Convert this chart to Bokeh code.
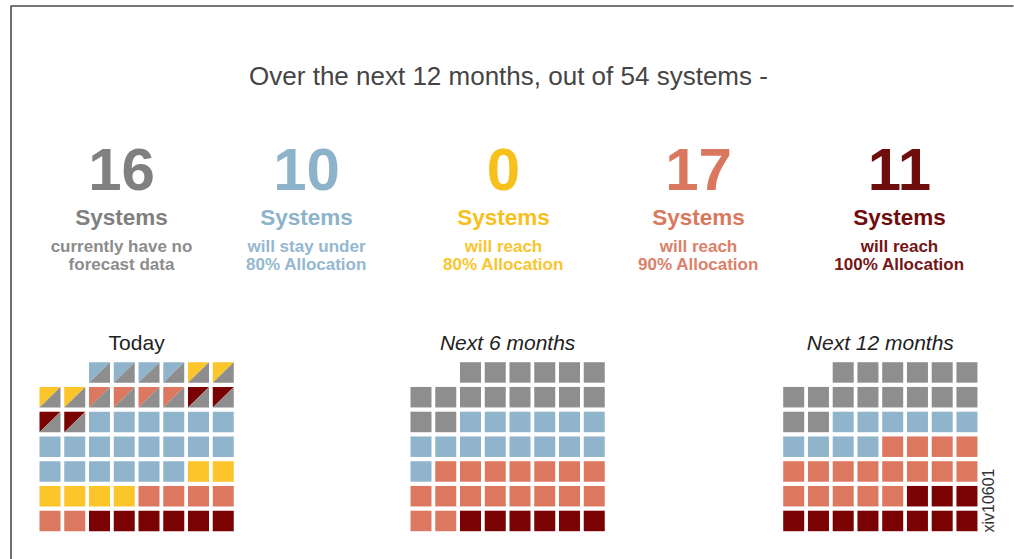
import math
from bokeh.plotting import figure
from bokeh.models import Range1d
from bokeh.core.properties import value
from bokeh.embed import file_html
from bokeh.resources import INLINE

# ---------------- data ----------------
title_text = "Over the next 12 months, out of 54 systems -"
stat_counts = ["16", "10", "0", "17", "11"]
stat_unit = ["Systems", "Systems", "Systems", "Systems", "Systems"]
stat_line1 = ["currently have no", "will stay under", "will reach", "will reach", "will reach"]
stat_line2 = ["forecast data", "80% Allocation", "80% Allocation", "90% Allocation", "100% Allocation"]
stat_colors = ["#808080", "#8db3cb", "#f8c01c", "#da785f", "#6f0c0c"]
stat_sub_colors = ["#8c8c8c", "#93b8cf", "#f9c52e", "#dc8069", "#741616"]

grid_titles = ["Today", "Next 6 months", "Next 12 months"]
grid_title_styles = ["normal", "italic", "italic"]

# cell codes: G gray, B blue, Y yellow, S salmon, R dark red; two letters = diagonal split (upper-left / lower-right)
today = [
    ["", "", "BG", "BG", "BG", "BG", "YG", "YG"],
    ["YG", "YG", "SG", "SG", "SG", "SG", "RG", "RG"],
    ["RG", "RG", "B", "B", "B", "B", "B", "B"],
    ["B", "B", "B", "B", "B", "B", "B", "B"],
    ["B", "B", "B", "B", "B", "B", "Y", "Y"],
    ["Y", "Y", "Y", "Y", "S", "S", "S", "S"],
    ["S", "S", "R", "R", "R", "R", "R", "R"],
]
next6 = [
    ["", "", "G", "G", "G", "G", "G", "G"],
    ["G", "G", "G", "G", "G", "G", "G", "G"],
    ["G", "G", "B", "B", "B", "B", "B", "B"],
    ["B", "B", "B", "B", "B", "B", "B", "B"],
    ["B", "S", "S", "S", "S", "S", "S", "S"],
    ["S", "S", "S", "S", "S", "S", "S", "S"],
    ["S", "S", "R", "R", "R", "R", "R", "R"],
]
next12 = [
    ["", "", "G", "G", "G", "G", "G", "G"],
    ["G", "G", "G", "G", "G", "G", "G", "G"],
    ["G", "G", "B", "B", "B", "B", "B", "B"],
    ["B", "B", "B", "B", "S", "S", "S", "S"],
    ["S", "S", "S", "S", "S", "S", "S", "S"],
    ["S", "S", "S", "S", "S", "R", "R", "R"],
    ["R", "R", "R", "R", "R", "R", "R", "R"],
]
grids = [today, next6, next12]
cell_colors = {"G": "#8e8e8e", "B": "#8fb4cc", "Y": "#fcc52a", "S": "#dc7860", "R": "#7a0202"}
code_text = "xiv10601"

# ---------------- layout ----------------
W, H = 1014, 559
FONT = "Liberation Sans"
p = figure(width=W, height=H, output_backend="svg", toolbar_location=None,
           x_range=Range1d(0, W), y_range=Range1d(H, 0), min_border=0)
p.axis.visible = False
p.grid.visible = False
p.outline_line_color = None
p.background_fill_color = "white"
p.border_fill_color = "white"

# frame lines
p.line(x=[10.5, 10.5, 1013], y=[H, 5.5, 5.5], line_color="#4a4a4a", line_width=1.6)

# title
p.text(x=[508], y=[75], text=[title_text], text_font=value(FONT), text_font_size="26px",
       text_color="#454545", text_align="center", text_baseline="middle")

# stats
stat_x = [121, 306, 503, 698, 899]
p.text(x=stat_x, y=[169] * 5, text=stat_counts, text_font=value(FONT), text_font_size="60px",
       text_font_style="bold", text_color=stat_colors, text_align="center", text_baseline="middle")
p.text(x=stat_x, y=[217] * 5, text=stat_unit, text_font=value(FONT), text_font_size="22.5px",
       text_font_style="bold", text_color=stat_colors, text_align="center", text_baseline="middle")
p.text(x=stat_x, y=[246] * 5, text=stat_line1, text_font=value(FONT), text_font_size="17px",
       text_font_style="bold", text_color=stat_sub_colors, text_align="center", text_baseline="middle")
p.text(x=stat_x, y=[264] * 5, text=stat_line2, text_font=value(FONT), text_font_size="17px",
       text_font_style="bold", text_color=stat_sub_colors, text_align="center", text_baseline="middle")

# grids
grid_left = [39, 410, 782.7]
grid_top = 361.7
pitch = 24.75
cw, ch = 21, 20.5
for gi, g in enumerate(grids):
    gx0 = grid_left[gi]
    L, R, T, B, C = [], [], [], [], []
    txs, tys, tcs = [], [], []
    for r, row in enumerate(g):
        for c, code in enumerate(row):
            if not code:
                continue
            x0 = gx0 + c * pitch
            y0 = grid_top + r * pitch
            if len(code) == 1:
                L.append(x0); R.append(x0 + cw); T.append(y0); B.append(y0 + ch)
                C.append(cell_colors[code])
            else:
                txs.append([x0, x0 + cw, x0]); tys.append([y0, y0, y0 + ch]); tcs.append(cell_colors[code[0]])
                txs.append([x0 + cw, x0 + cw, x0]); tys.append([y0, y0 + ch, y0 + ch]); tcs.append(cell_colors[code[1]])
    if L:
        p.quad(left=L, right=R, top=T, bottom=B, fill_color=C, line_color=None)
    if txs:
        p.patches(xs=txs, ys=tys, fill_color=tcs, line_color=None)
    p.text(x=[gx0 + (7 * pitch + cw) / 2], y=[342], text=[grid_titles[gi]], text_font=value(FONT),
           text_font_size="21px", text_font_style=grid_title_styles[gi], text_color="#222222",
           text_align="center", text_baseline="middle")

p.text(x=[988], y=[500], text=[code_text], text_font=value(FONT), text_font_size="16px",
       text_color="#333333", text_align="center", text_baseline="middle", angle=math.pi / 2)

open("out.html", "w").write(file_html(p, INLINE))
